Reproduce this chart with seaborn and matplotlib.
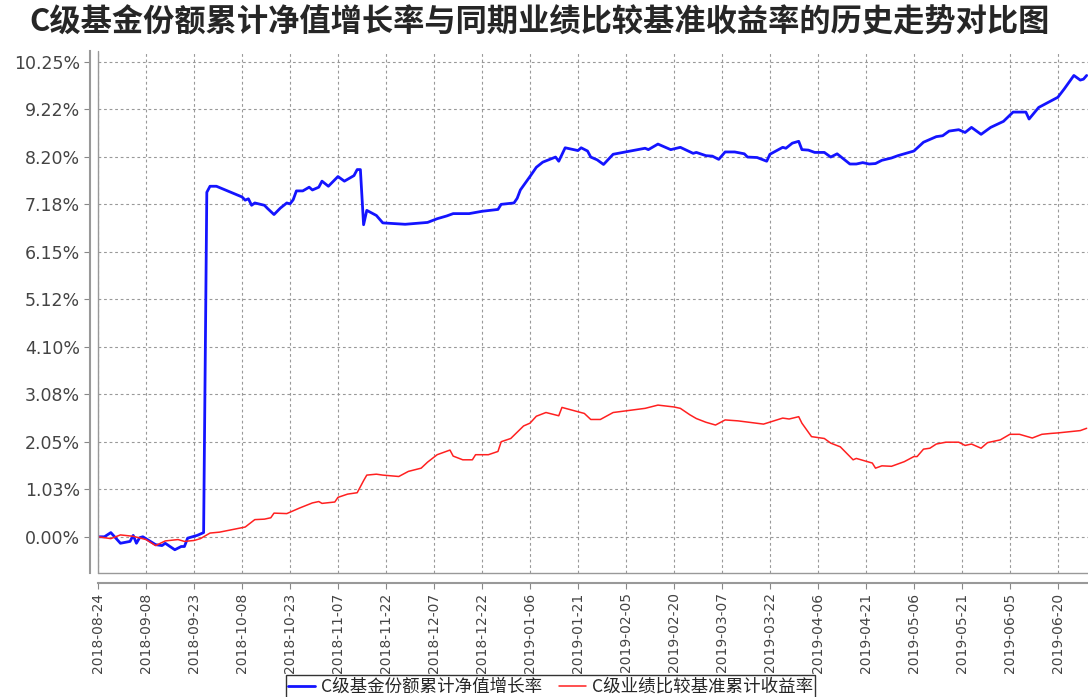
import matplotlib
matplotlib.use('Agg')
import matplotlib.pyplot as plt
import seaborn as sns
import pandas as pd

# 数据：C级净值增长率（蓝）与业绩比较基准收益率（红），单位 %
nav_dates = [
    '2018-08-24', '2018-08-26', '2018-08-28', '2018-08-31', '2018-09-03', '2018-09-04',
    '2018-09-05', '2018-09-06', '2018-09-07', '2018-09-11', '2018-09-13', '2018-09-14',
    '2018-09-17', '2018-09-19', '2018-09-20', '2018-09-21', '2018-09-24', '2018-09-26',
    '2018-09-27', '2018-09-28', '2018-09-30', '2018-10-08', '2018-10-09', '2018-10-10',
    '2018-10-11', '2018-10-12', '2018-10-15', '2018-10-16', '2018-10-18', '2018-10-20',
    '2018-10-22', '2018-10-23', '2018-10-24', '2018-10-25', '2018-10-27', '2018-10-29',
    '2018-10-30', '2018-11-01', '2018-11-02', '2018-11-04', '2018-11-07', '2018-11-09',
    '2018-11-12', '2018-11-13', '2018-11-14', '2018-11-15', '2018-11-16', '2018-11-19',
    '2018-11-21', '2018-11-28', '2018-12-05', '2018-12-08', '2018-12-11', '2018-12-13',
    '2018-12-18', '2018-12-22', '2018-12-27', '2018-12-28', '2019-01-01', '2019-01-02',
    '2019-01-03', '2019-01-06', '2019-01-08', '2019-01-10', '2019-01-14', '2019-01-15',
    '2019-01-17', '2019-01-21', '2019-01-22', '2019-01-24', '2019-01-25', '2019-01-27',
    '2019-01-29', '2019-02-01', '2019-02-11', '2019-02-12', '2019-02-15', '2019-02-19',
    '2019-02-22', '2019-02-26', '2019-02-27', '2019-03-02', '2019-03-04', '2019-03-06',
    '2019-03-08', '2019-03-11', '2019-03-14', '2019-03-15', '2019-03-18', '2019-03-21',
    '2019-03-22', '2019-03-26', '2019-03-27', '2019-03-29', '2019-03-31', '2019-04-01',
    '2019-04-03', '2019-04-05', '2019-04-08', '2019-04-10', '2019-04-12', '2019-04-16',
    '2019-04-18', '2019-04-20', '2019-04-22', '2019-04-24', '2019-04-26', '2019-04-29',
    '2019-05-01', '2019-05-06', '2019-05-09', '2019-05-13', '2019-05-15', '2019-05-17',
    '2019-05-20', '2019-05-22', '2019-05-24', '2019-05-27', '2019-05-30', '2019-06-03',
    '2019-06-06', '2019-06-10', '2019-06-11', '2019-06-14', '2019-06-20', '2019-06-22',
    '2019-06-25', '2019-06-27', '2019-06-28', '2019-06-29',
]
nav_values = [
    0.00, 0.00, 0.09, -0.14, -0.10, 0.03,
    -0.14, -0.02, 0.00, -0.17, -0.19, -0.14,
    -0.28, -0.21, -0.21, -0.03, 0.03, 0.09,
    7.43, 7.56, 7.56, 7.33, 7.26, 7.29,
    7.15, 7.20, 7.15, 7.08, 6.95, 7.09,
    7.20, 7.18, 7.27, 7.46, 7.46, 7.54,
    7.48, 7.54, 7.67, 7.56, 7.77, 7.67,
    7.79, 7.92, 7.92, 6.73, 7.04, 6.93,
    6.77, 6.74, 6.78, 6.86, 6.92, 6.97,
    6.97, 7.02, 7.06, 7.17, 7.20, 7.30,
    7.48, 7.77, 7.97, 8.08, 8.19, 8.10,
    8.39, 8.33, 8.39, 8.32, 8.19, 8.13,
    8.03, 8.25, 8.38, 8.35, 8.47, 8.35,
    8.40, 8.27, 8.29, 8.22, 8.21, 8.14,
    8.30, 8.30, 8.26, 8.19, 8.18, 8.10,
    8.25, 8.40, 8.38, 8.49, 8.53, 8.35,
    8.34, 8.29, 8.29, 8.19, 8.26, 8.04,
    8.04, 8.07, 8.04, 8.05, 8.12, 8.17,
    8.22, 8.32, 8.51, 8.63, 8.65, 8.75,
    8.78, 8.72, 8.83, 8.68, 8.83, 8.96,
    9.16, 9.16, 9.01, 9.26, 9.48, 9.66,
    9.95, 9.85, 9.87, 9.95,
]

bench_dates = [
    '2018-08-24', '2018-08-28', '2018-08-31', '2018-09-04', '2018-09-08', '2018-09-11',
    '2018-09-14', '2018-09-18', '2018-09-20', '2018-09-23', '2018-09-25', '2018-09-28',
    '2018-10-01', '2018-10-09', '2018-10-12', '2018-10-15', '2018-10-17', '2018-10-18',
    '2018-10-22', '2018-10-26', '2018-10-30', '2018-11-01', '2018-11-02', '2018-11-06',
    '2018-11-07', '2018-11-10', '2018-11-13', '2018-11-14', '2018-11-15', '2018-11-16',
    '2018-11-19', '2018-11-21', '2018-11-26', '2018-11-29', '2018-12-03', '2018-12-05',
    '2018-12-08', '2018-12-12', '2018-12-13', '2018-12-16', '2018-12-19', '2018-12-20',
    '2018-12-24', '2018-12-27', '2018-12-28', '2018-12-31', '2019-01-04', '2019-01-06',
    '2019-01-08', '2019-01-11', '2019-01-15', '2019-01-16', '2019-01-23', '2019-01-25',
    '2019-01-28', '2019-02-01', '2019-02-11', '2019-02-15', '2019-02-20', '2019-02-22',
    '2019-02-25', '2019-02-27', '2019-03-02', '2019-03-05', '2019-03-08', '2019-03-12',
    '2019-03-20', '2019-03-26', '2019-03-28', '2019-03-31', '2019-04-01', '2019-04-04',
    '2019-04-08', '2019-04-10', '2019-04-13', '2019-04-17', '2019-04-18', '2019-04-23',
    '2019-04-24', '2019-04-26', '2019-04-29', '2019-05-03', '2019-05-06', '2019-05-07',
    '2019-05-09', '2019-05-11', '2019-05-13', '2019-05-16', '2019-05-20', '2019-05-22',
    '2019-05-24', '2019-05-27', '2019-05-29', '2019-06-02', '2019-06-05', '2019-06-08',
    '2019-06-12', '2019-06-15', '2019-06-18', '2019-06-20', '2019-06-27', '2019-06-29',
]
bench_values = [
    0.00, -0.04, 0.04, 0.01, -0.06, -0.19,
    -0.09, -0.06, -0.10, -0.08, -0.04, 0.08,
    0.10, 0.21, 0.37, 0.38, 0.41, 0.51,
    0.50, 0.62, 0.73, 0.76, 0.72, 0.75,
    0.85, 0.92, 0.95, 1.08, 1.21, 1.33,
    1.35, 1.33, 1.30, 1.41, 1.48, 1.61,
    1.77, 1.87, 1.74, 1.66, 1.66, 1.77,
    1.77, 1.84, 2.05, 2.12, 2.39, 2.45,
    2.60, 2.68, 2.61, 2.79, 2.66, 2.53,
    2.53, 2.68, 2.77, 2.84, 2.80, 2.77,
    2.63, 2.55, 2.47, 2.41, 2.52, 2.50,
    2.43, 2.56, 2.54, 2.59, 2.45, 2.16,
    2.12, 2.02, 1.94, 1.66, 1.69, 1.59,
    1.48, 1.53, 1.52, 1.62, 1.73, 1.73,
    1.89, 1.91, 2.00, 2.04, 2.04, 1.97,
    2.00, 1.91, 2.03, 2.09, 2.21, 2.21,
    2.13, 2.21, 2.23, 2.24, 2.29, 2.34,
]

y_ticks = [0.0, 1.025, 2.05, 3.075, 4.1, 5.125, 6.15, 7.175, 8.2, 9.225, 10.25]
y_labels = ['0.00%', '1.03%', '2.05%', '3.08%', '4.10%', '5.12%',
            '6.15%', '7.18%', '8.20%', '9.22%', '10.25%']

title = 'C级基金份额累计净值增长率与同期业绩比较基准收益率的历史走势对比图'
name_nav = 'C级基金份额累计净值增长率'
name_bench = 'C级业绩比较基准累计收益率'

sns.set_style('white')
plt.rcParams['font.family'] = ['DejaVu Sans', 'Noto Sans CJK SC']
plt.rcParams['axes.unicode_minus'] = False

nav = pd.DataFrame({'date': pd.to_datetime(nav_dates), 'value': nav_values})
bench = pd.DataFrame({'date': pd.to_datetime(bench_dates), 'value': bench_values})

fig = plt.figure(figsize=(10.88, 6.97), dpi=100)
ax = fig.add_axes([0.0901, 0.178, 0.9099, 0.749])

sns.lineplot(data=nav, x='date', y='value', ax=ax, color='#1414ff', linewidth=2.0, label=name_nav)
sns.lineplot(data=bench, x='date', y='value', ax=ax, color='#ff2020', linewidth=1.1, label=name_bench)

x_ticks = pd.date_range('2018-08-24', periods=21, freq='15D')
ax.set_xticks(x_ticks)
ax.set_xticklabels([d.strftime('%Y-%m-%d') for d in x_ticks])
ax.set_yticks(y_ticks)
ax.set_yticklabels(y_labels)
ax.set_xlim(pd.Timestamp('2018-08-24'), pd.Timestamp('2019-06-29 10:00'))
ax.set_ylim(-0.78, 10.48)
ax.set_xlabel('')
ax.set_ylabel('')

ax.grid(True, color='#999999', linestyle=(0, (2.5, 2.5)), linewidth=0.8)
ax.tick_params(axis='both', which='major', length=4, color='#888888', direction='out',
               pad=3, labelcolor='#444444')
ax.tick_params(axis='x', bottom=True, labelrotation=90, labelsize=10)
ax.tick_params(axis='y', left=True, labelsize=12.5)

for s in ['top', 'right']:
    ax.spines[s].set_visible(False)
ax.spines['left'].set_position(('outward', 6))
ax.spines['bottom'].set_position(('outward', 7))
ax.spines['left'].set_color('#999999')
ax.spines['bottom'].set_color('#999999')
ax.spines['left'].set_linewidth(1.5)
ax.spines['bottom'].set_linewidth(1.5)
# plot box edges
ax.plot([0, 0], [0, 1], transform=ax.transAxes, color='#999999', linewidth=1.0, clip_on=False)
ax.plot([0, 1], [0, 0], transform=ax.transAxes, color='#999999', linewidth=1.0, clip_on=False)

ax.get_legend().remove()
handles, labels = ax.get_legend_handles_labels()
leg = fig.legend(handles[:2], labels[:2], loc='upper center', bbox_to_anchor=(0.506, 0.031),
                 ncol=2, frameon=True, fancybox=False, edgecolor='black',
                 handlelength=1.55, handletextpad=0.3, columnspacing=1.0,
                 borderpad=0.15, borderaxespad=0,
                 prop={'family': ['Noto Sans CJK SC', 'DejaVu Sans'], 'size': 12.6})
leg.get_frame().set_linewidth(1.0)

fig.text(0.4955, 1 - 22 / 697, title, ha='center', va='center', fontsize=22.5, fontweight='bold',
         family=['Noto Sans CJK SC', 'DejaVu Sans'])

fig.savefig('out.png', dpi=100)
plt.close(fig)
